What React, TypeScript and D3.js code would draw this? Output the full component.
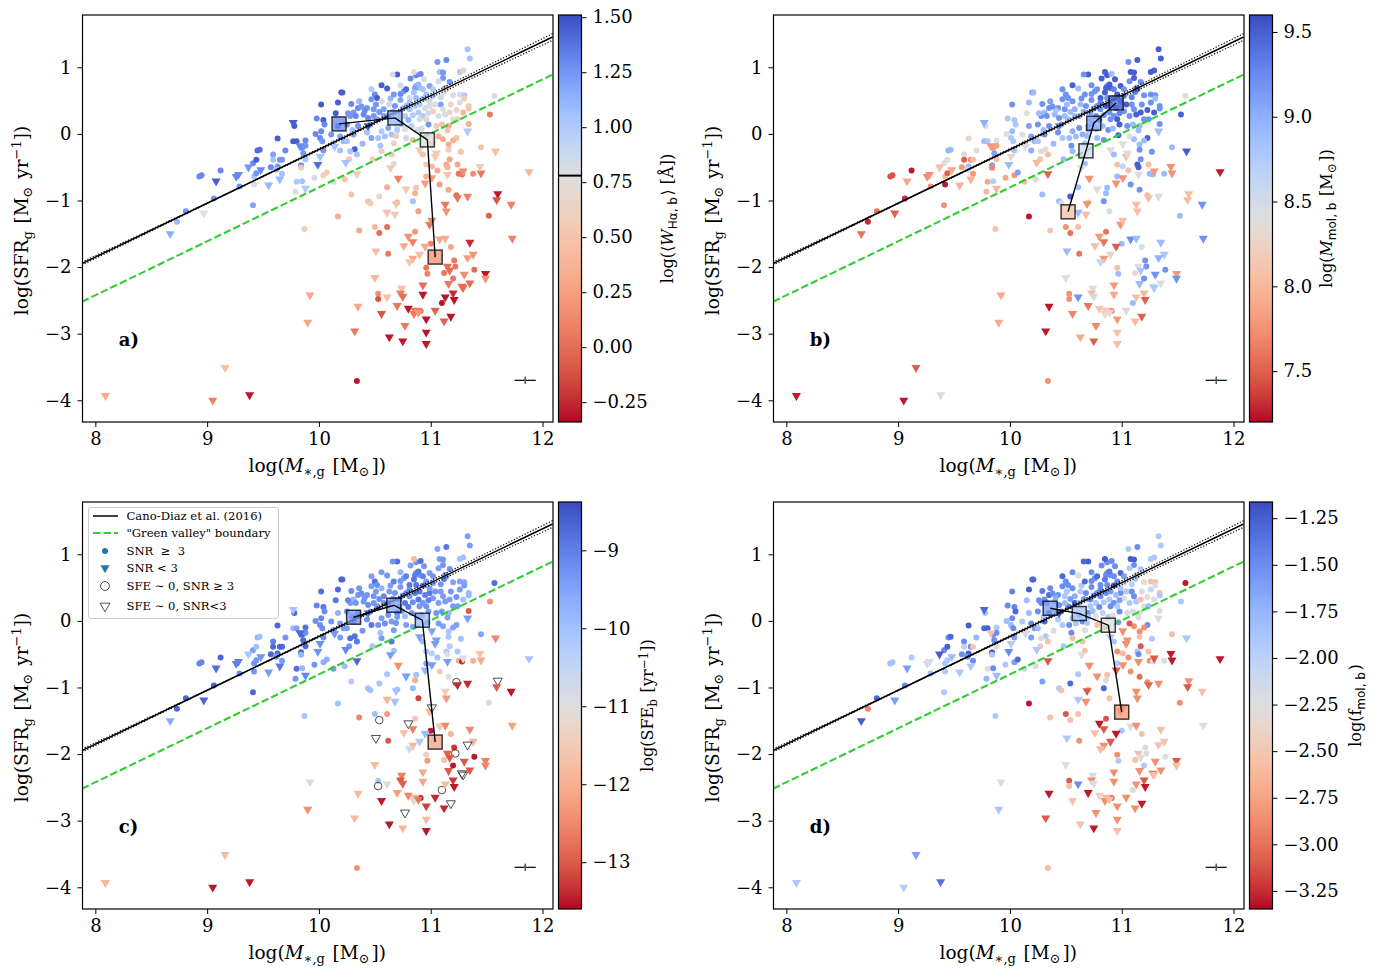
import { useEffect, useRef } from 'react';
import * as d3 from 'd3';

// values, one entry per galaxy, 10 per line
const massLog = [
  8.09,9.05,9.38,9.16,10.34,8.67,8.73,8.81,8.97,9.06,
  9.08,8.93,8.95,9.12,9.26,9.28,9.29,9.41,9.42,9.42,
  9.44,9.37,9.41,9.44,9.45,9.47,9.48,9.55,9.57,9.59,
  9.59,9.63,9.62,9.65,9.67,9.65,9.67,9.63,9.70,9.77,
  9.80,9.77,9.78,9.88,9.83,9.85,9.88,9.86,9.88,9.84,
  9.84,9.99,9.80,9.85,9.79,9.88,9.96,10.04,10.07,10.04,
  10.01,9.87,10.17,10.23,10.24,10.27,10.29,10.36,10.35,9.92,
  9.90,10.32,10.34,10.13,10.02,10.17,10.20,10.21,10.29,10.36,
  10.35,9.98,10.04,10.05,10.02,9.97,10.01,10.03,10.11,10.15,
  10.17,10.19,10.13,10.14,10.22,10.19,10.25,10.28,10.31,10.25,
  10.31,10.32,10.28,10.34,10.39,10.40,10.35,10.43,10.49,10.47,
  10.56,10.61,10.50,10.52,10.47,10.56,10.51,10.63,10.64,10.67,
  10.73,10.73,10.76,10.78,10.70,10.66,10.73,10.82,10.87,10.91,
  10.85,10.94,10.87,10.90,10.99,11.06,11.14,11.33,11.35,11.08,
  11.11,11.11,11.26,11.29,11.17,11.07,11.13,10.96,11.02,11.09,
  11.14,11.20,11.26,11.30,11.30,11.34,11.34,11.29,11.57,11.53,
  11.34,11.33,10.98,11.16,11.23,11.20,11.11,11.07,11.16,11.16,
  11.27,11.45,11.58,11.88,11.45,11.44,11.29,11.38,11.25,11.28,
  11.24,11.17,11.14,11.15,11.15,11.06,10.96,10.95,11.01,11.08,
  11.04,11.05,10.96,10.93,10.90,10.84,11.01,11.16,11.23,11.24,
  11.33,11.60,11.59,11.01,11.72,11.52,11.73,11.13,11.14,10.86,
  10.87,10.78,10.71,10.61,10.54,10.44,10.46,10.69,10.70,10.84,
  10.89,10.61,10.68,10.99,11.01,10.50,10.61,10.54,10.80,10.86,
  10.84,10.76,10.51,10.62,10.95,11.00,11.08,11.13,11.18,10.90,
  10.84,10.81,11.35,11.38,11.33,11.21,11.22,11.15,11.17,11.39,
  11.30,11.49,11.49,10.96,10.97,11.12,11.20,10.50,11.16,11.28,
  11.29,11.35,10.93,10.93,10.74,10.73,10.75,10.53,10.53,10.61,
  10.70,10.56,10.80,10.86,10.85,10.89,10.91,10.96,11.13,11.20,
  11.21,11.10,11.04,11.18,11.12,10.77,10.63,10.75,10.96,10.96,
  10.53,10.56,10.59,10.62,10.65,10.43,10.47,10.46,10.52,10.58,
  10.68,10.72,10.77,10.81,10.86,10.89,10.93,10.99,11.02,11.07,
  11.13,11.17,10.93,10.87,10.81,10.77,10.78,10.69,10.67,10.70,
  10.90,10.96,10.99,11.11,10.80,11.20,10.55,10.56,10.65,10.64,
  10.67,10.48,10.44,
  10.86,10.89,10.93,11.02,10.85,10.81,10.90,10.95,10.84,10.98,
  11.04,11.09,11.12,11.18,11.23,11.26,10.75,10.72,10.66,10.62,
  10.58,10.54,10.49,10.44,10.41,10.38,10.33,10.30,10.26,10.70,
  10.74,10.78,10.83,10.88,10.92,10.97,11.05,11.10,11.15,11.24,
];

const sfrLog = [
  -3.93,-4.00,-3.92,-3.51,-3.71,-1.50,-1.32,-1.16,-1.19,-0.97,
  -0.71,-0.64,-0.62,-0.55,-0.64,-0.61,-0.79,-1.07,-0.76,-0.64,
  -0.59,-0.50,-0.44,-0.39,-0.25,-0.24,-0.54,-0.77,-0.50,-0.31,
  -0.39,-0.49,-0.54,-0.68,-0.60,-0.39,-0.39,-0.07,-0.25,-0.11,
  -0.11,0.17,0.12,-0.10,-0.18,-0.21,-0.18,-0.29,-0.38,-0.47,
  -0.51,-0.46,-0.72,-0.71,-0.87,-0.82,-0.66,-0.62,-0.58,-0.25,
  -0.34,-1.43,-1.24,-0.68,-0.43,-0.38,-0.91,-1.45,-2.59,-2.42,
  -2.83,-2.96,-0.60,-0.72,0.44,0.47,0.62,0.62,0.45,0.49,
  0.39,0.23,0.21,0.14,0.04,0.00,-0.06,-0.11,-0.01,0.31,
  0.12,-0.04,-0.14,-0.19,-0.11,-0.25,-0.11,0.27,0.32,0.14,
  -0.01,-0.23,-0.26,-0.31,-0.15,0.29,0.12,0.39,0.37,0.67,
  0.73,0.68,0.59,0.54,0.52,0.49,0.44,0.44,0.53,0.59,
  0.60,0.51,0.64,0.67,0.89,0.89,0.73,0.83,0.88,0.90,
  0.93,0.82,0.72,0.69,0.72,1.08,1.11,1.27,1.13,0.93,
  0.92,0.84,0.93,0.95,0.78,0.79,0.69,0.59,0.57,0.44,
  0.67,0.58,0.59,0.58,0.53,0.42,0.38,0.32,0.57,0.29,
  0.15,0.04,0.14,0.12,-0.06,-0.10,-0.08,-0.04,-0.16,-0.24,
  -0.27,-0.20,-0.26,-0.57,-0.59,-0.49,-0.56,-0.60,-0.60,-0.61,
  -0.46,-0.38,-0.46,-0.50,-0.61,-0.55,-0.64,-0.74,-0.66,-0.76,
  -0.34,-0.29,-0.46,-0.31,-0.24,-0.09,-0.15,-0.84,-0.92,-0.96,
  -0.94,-0.90,-0.99,-0.49,-1.06,-1.23,-1.57,-1.06,-1.16,-0.89,
  -0.81,-0.83,-0.67,-0.80,-0.94,-1.01,-1.04,-1.05,-1.03,-1.01,
  -1.16,-1.18,-1.21,-1.36,-1.30,-1.40,-1.40,-1.49,-1.54,-1.47,
  -1.62,-1.68,-1.76,-1.80,-1.69,-1.65,-1.58,-1.57,-1.70,-1.81,
  -1.87,-1.92,-1.63,-1.81,-1.86,-1.90,-1.99,-1.99,-2.05,-2.04,
  -2.11,-2.10,-2.17,-2.01,-2.10,-2.09,-2.17,-2.16,-2.25,-2.29,
  -2.31,-2.24,-2.27,-2.41,-2.32,-2.39,-2.44,-2.40,-2.48,-2.45,
  -2.58,-2.70,-2.62,-2.65,-2.70,-2.68,-2.66,-2.78,-2.45,-2.39,
  -2.49,-2.54,-2.65,-2.74,-2.81,-2.88,-3.05,-3.11,-2.98,-3.15,
  -0.06,0.04,-0.04,0.09,-0.01,0.02,-0.06,0.14,0.22,0.27,
  0.42,0.32,0.27,0.37,0.42,0.32,0.27,0.42,0.34,0.27,
  0.29,0.32,0.53,0.54,0.54,0.07,-0.06,-0.03,-0.14,0.12,
  0.22,0.22,0.49,0.37,0.21,0.22,-0.18,-0.26,-0.31,-0.51,
  -0.45,-0.38,0.12,
  0.69,0.74,0.67,0.67,0.62,0.47,0.44,0.39,0.28,0.31,
  0.44,0.55,0.63,0.44,0.36,0.47,0.38,0.22,0.33,0.27,
  0.37,0.33,0.27,0.24,0.35,0.41,0.27,0.06,0.31,0.06,
  0.15,0.42,0.12,0.06,0.08,-0.02,0.12,0.14,0.05,0.22,
];

// 1 = SNR < 3 (triangle), 0 = SNR >= 3 (circle)
const lowSnr = [
  1,1,1,1,0,1,0,0,1,0,
  1,0,0,0,1,1,0,0,0,0,
  0,1,0,0,0,0,1,1,0,0,
  0,0,0,1,0,0,0,0,0,0,
  0,1,0,0,1,0,0,0,0,0,
  0,1,0,0,0,1,0,0,0,0,
  1,0,0,0,1,0,0,0,1,1,
  1,1,1,0,0,0,0,0,0,0,
  0,0,0,0,0,0,0,0,0,0,
  0,0,0,1,0,0,0,0,0,0,
  0,0,0,0,0,0,0,0,0,0,
  0,0,0,0,0,0,0,0,0,0,
  0,0,0,0,0,0,0,0,0,0,
  0,0,0,0,0,0,0,0,0,0,
  0,0,0,0,0,0,0,0,0,0,
  0,0,0,0,0,0,0,0,0,0,
  0,1,0,0,0,0,0,0,0,0,
  0,0,1,1,1,1,1,0,0,0,
  0,0,0,0,1,0,0,1,1,0,
  1,1,0,0,1,0,1,0,0,1,
  1,1,1,0,1,0,1,1,1,0,
  0,1,1,0,0,0,0,1,0,0,
  0,1,1,1,1,0,0,0,1,0,
  1,1,1,0,1,0,1,1,0,1,
  1,1,1,1,1,0,0,1,1,0,
  1,1,1,0,0,0,0,1,1,1,
  1,1,1,1,1,1,1,0,0,1,
  1,1,1,1,1,1,0,1,1,1,
  1,0,1,1,1,1,1,1,1,1,
  0,0,0,0,0,0,0,0,0,0,
  0,0,0,0,0,0,0,0,0,0,
  0,0,0,0,0,0,0,0,0,0,
  0,0,0,0,0,0,0,0,0,1,
  0,0,1,
  0,0,0,0,0,0,0,0,0,0,
  0,0,0,0,0,0,0,0,0,0,
  0,0,0,0,0,0,0,0,0,0,
  0,0,0,0,0,0,0,0,0,0,
];

const ewHalpha = [
  0.3,0.1,-0.3,0.45,-0.3,1.15,1.1,1.25,0.78,1.25,
  1.45,1.3,1.3,1.3,1.3,1.3,1.25,1.2,0.78,1.05,
  1.25,1.25,1.3,1.45,1.4,1.4,1.3,1.1,1.3,1.2,
  1.05,1.25,1.05,1.1,1.05,1.25,1.25,1.45,1.3,1.45,
  1.45,1.45,1.45,1.3,1.3,1.3,1.25,1.25,1.05,1.25,
  0.55,1.4,1.0,1.05,0.8,1.0,0.8,0.6,0.55,1.25,
  1.05,0.55,0.35,0.5,1.05,0.55,0.5,0.3,0.3,0.3,
  0.3,0.05,0.55,0.78,1.45,1.45,1.45,1.45,1.3,1.1,
  1.3,1.3,1.45,1.3,1.3,1.3,1.3,1.25,1.25,1.45,
  1.3,1.2,1.05,1.05,1.1,1.05,1.05,1.25,1.25,1.3,
  1.2,1.45,1.05,1.05,1.1,1.3,1.25,1.25,1.25,1.0,
  1.45,1.45,1.3,1.45,1.25,0.8,1.25,0.85,1.1,1.25,
  1.3,1.2,1.25,1.4,1.45,0.8,0.85,1.3,1.3,1.3,
  0.7,0.8,1.2,1.05,1.2,1.25,1.3,1.05,1.05,1.05,
  1.25,1.25,1.0,0.6,1.25,0.85,1.15,1.05,1.0,1.2,
  0.6,0.8,0.8,1.0,0.6,0.55,0.5,0.4,0.78,0.05,
  0.35,1.0,1.25,0.35,0.5,0.35,0.35,0.35,0.35,0.55,
  0.5,0.5,0.45,0.4,0.05,0.55,0.15,0.15,0.05,0.05,
  0.3,0.3,0.3,0.35,0.5,0.3,0.35,0.25,0.25,0.25,
  0.55,0.55,0.55,0.5,0.6,0.45,0.55,0.3,0.0,0.05,
  0.1,-0.3,-0.1,0.4,0.1,-0.05,0.1,0.05,0.2,0.35,
  0.5,0.55,0.1,0.35,0.75,0.5,0.55,0.5,0.35,1.05,
  0.25,0.5,0.55,0.05,0.1,0.4,0.0,0.0,0.2,0.2,
  0.1,0.3,0.45,0.05,0.3,0.1,0.3,0.35,0.3,0.45,
  0.3,0.5,-0.25,0.2,0.25,0.05,0.05,0.0,0.0,0.0,
  0.15,-0.3,0.2,0.05,0.1,0.05,0.05,0.4,0.05,0.0,
  0.0,0.0,0.0,-0.3,0.45,0.1,0.0,0.15,-0.1,0.45,
  0.05,-0.1,-0.3,0.05,0.05,0.2,0.0,-0.3,-0.3,-0.25,
  -0.3,-0.3,-0.05,-0.3,-0.05,0.05,-0.3,-0.3,-0.3,-0.3,
  1.05,1.0,1.05,1.2,1.05,1.05,1.2,1.2,1.2,1.2,
  1.25,1.05,1.0,1.05,1.0,1.0,1.0,0.8,0.6,0.8,
  0.8,0.65,1.05,1.1,0.85,0.8,0.85,0.55,0.6,0.8,
  0.85,0.65,0.85,0.78,1.15,0.8,1.05,0.6,0.55,0.55,
  0.75,0.6,1.45,
  1.2,1.1,1.05,1.0,1.05,1.05,1.0,0.85,1.0,0.85,
  0.8,0.85,0.8,0.7,0.65,0.75,1.1,1.1,1.2,1.2,
  1.2,1.25,1.25,1.3,1.3,1.25,1.3,1.05,1.25,1.0,
  1.05,1.1,0.95,0.85,0.75,0.55,0.55,0.5,0.5,0.6,
];

const molMass = [
  7.25,7.25,8.3,7.5,7.75,7.6,7.3,7.6,7.5,7.3,
  7.9,7.45,7.45,7.25,7.75,7.75,7.75,7.75,7.25,8.05,
  7.5,8.05,8.4,8.4,9.0,8.9,7.9,7.95,7.8,8.4,
  7.5,8.9,8.5,7.95,7.8,7.7,8.05,8.3,8.4,8.9,
  8.8,9.0,8.4,8.4,7.8,7.8,7.85,9.1,8.05,9.1,
  7.7,8.9,7.9,8.7,8.0,8.0,7.9,7.8,9.1,8.8,
  8.3,8.1,7.25,8.3,8.0,8.1,8.9,8.1,7.25,7.9,
  7.9,7.25,7.5,8.05,9.2,8.9,9.2,8.9,9.2,9.1,
  9.2,8.8,8.8,8.8,8.9,8.4,8.8,8.8,8.4,8.4,
  9.1,9.1,8.1,8.4,8.9,9.0,8.8,9.2,8.9,9.2,
  9.2,8.4,8.4,8.05,8.9,8.9,9.2,9.2,9.2,9.2,
  9.5,8.9,9.2,9.2,9.2,9.2,8.9,8.9,9.2,9.2,
  9.2,9.2,9.2,9.2,9.5,9.2,9.2,9.5,9.5,8.9,
  9.5,9.5,9.2,9.5,9.5,9.2,9.5,9.5,9.5,9.5,
  9.5,9.5,9.5,9.5,9.2,9.2,9.2,9.5,9.2,9.2,
  9.5,9.2,9.2,9.2,8.9,9.2,9.2,9.5,8.4,9.5,
  9.2,8.9,9.5,8.9,9.5,8.9,8.9,8.4,8.9,9.2,
  9.2,8.9,9.5,7.25,7.75,7.75,7.8,8.9,8.9,8.9,
  8.05,9.2,9.5,9.5,8.4,8.05,8.9,7.75,7.75,9.2,
  8.05,8.4,8.05,8.9,8.4,9.2,8.4,9.2,8.05,8.05,
  8.4,8.05,8.05,8.6,9.2,8.9,9.2,8.05,8.05,8.9,
  8.9,8.4,7.75,8.9,9.5,8.9,8.4,7.75,8.05,9.2,
  8.4,8.9,8.05,7.75,8.05,7.75,8.05,7.6,7.8,7.6,
  7.6,8.05,8.9,7.6,7.5,8.9,9.2,8.9,8.4,8.3,
  7.8,8.6,8.9,8.8,9.0,9.2,9.2,8.4,8.8,9.2,
  9.2,7.8,9.2,8.05,8.9,8.3,9.2,8.4,8.9,8.4,
  8.8,8.4,7.8,7.9,8.4,8.05,8.5,7.75,7.75,9.2,
  7.6,7.7,8.1,8.1,8.3,8.3,7.7,7.8,8.05,8.0,
  7.5,8.9,8.3,7.5,8.0,7.7,7.9,7.5,8.05,8.05,
  8.9,9.0,8.9,9.2,9.0,9.2,8.8,9.1,8.9,8.9,
  9.2,9.1,9.2,9.2,9.5,9.2,9.2,9.2,9.2,9.2,
  9.5,9.5,9.3,9.2,9.5,8.9,8.9,8.9,8.8,9.1,
  9.2,9.5,9.5,9.2,9.5,9.2,9.2,8.9,8.1,8.4,
  8.9,8.9,9.2,
  9.5,9.5,9.3,9.2,9.5,9.3,9.3,9.5,9.2,9.3,
  9.5,9.3,9.3,9.2,9.5,9.2,9.2,8.9,9.0,8.9,
  9.0,8.9,8.9,9.2,8.8,9.2,9.2,8.9,8.9,8.9,
  9.0,9.2,8.9,9.2,8.9,9.5,9.2,8.9,8.9,9.2,
];

// null = SFE ~ 0, drawn as an open symbol
const sfeBulge = [
  -11.9,-13.5,-13.5,-11.8,-12.4,-9.6,-8.7,-8.7,-8.7,-8.7,
  -8.8,-9.1,-9.1,-8.7,-9.0,-9.0,-9.2,-8.7,-9.3,-9.3,
  -9.3,-10.1,-9.4,-10.0,-9.8,-10.0,-9.3,-9.4,-8.7,-9.0,
  -8.7,-8.7,-9.4,-8.9,-9.4,-8.7,-8.7,-8.7,-9.3,-9.9,
  -9.5,-10.1,-8.7,-8.8,-8.7,-8.7,-9.2,-8.7,-8.7,-8.7,
  -9.8,-9.3,-8.8,-9.8,-9.3,-9.1,-9.3,-9.7,-9.7,-9.2,
  -9.2,-10.1,-10.0,-9.9,-9.1,-9.3,-10.2,-12.5,-11.8,-11.0,
  -12.4,-11.8,-8.7,-9.4,-8.8,-8.7,-8.7,-8.7,-9.2,-9.3,
  -9.3,-9.1,-8.9,-9.2,-9.1,-9.2,-9.2,-9.2,-9.3,-8.9,
  -9.7,-9.4,-9.3,-9.3,-9.4,-9.4,-9.4,-9.4,-9.8,-9.4,
  -9.3,-8.8,-8.8,-8.9,-9.3,-9.3,-9.3,-9.3,-9.3,-9.4,
  -9.4,-9.3,-8.8,-9.2,-9.4,-9.8,-9.4,-9.4,-9.4,-9.0,
  -9.3,-9.4,-9.4,-9.0,-8.8,-9.3,-9.8,-9.4,-9.3,-8.8,
  -11.8,-9.3,-9.3,-9.3,-9.4,-9.5,-8.9,-9.4,-9.4,-9.4,
  -9.3,-9.3,-10.0,-10.0,-9.3,-9.4,-9.4,-9.4,-9.4,-9.4,
  -9.4,-9.5,-9.5,-9.5,-9.4,-9.9,-9.9,-10.0,-8.8,-12.4,
  -13.0,-9.4,-9.4,-9.9,-9.4,-9.5,-9.5,-9.4,-10.1,-10.1,
  -10.0,-9.5,-12.5,-10.1,-12.0,-11.7,-11.0,-12.0,-12.0,-13.4,
  -10.1,-10.2,-10.2,-11.0,-9.4,-10.0,-9.5,-9.8,-9.4,-11.5,
  -9.4,-9.4,-10.1,-9.9,-9.5,-9.5,-9.5,-11.0,null,-13.4,
  -13.4,null,-13.0,-10.3,-13.5,-10.9,-12.2,-11.4,-12.3,-12.0,
  -10.0,-9.4,-12.4,-10.1,-10.1,-10.0,-10.0,-10.0,-10.1,-9.9,
  -13.2,-11.9,-10.0,-11.8,null,-10.0,-12.3,null,null,-11.6,
  -12.6,-11.7,null,-13.0,-9.9,-13.5,-11.5,-12.5,-11.9,-10.2,
  -11.9,-10.7,-12.5,-11.9,null,-13.3,null,-12.9,-13.0,-13.5,
  -13.0,-12.6,-12.5,-11.4,-12.3,-11.7,-13.5,-11.8,-13.0,null,
  null,-13.0,-12.1,-12.1,-12.6,-13.0,-12.9,-10.1,null,-11.1,
  -12.2,-13.5,-12.5,-11.9,-11.2,-12.7,-13.5,-13.2,-11.8,-13.3,
  -13.5,null,-13.4,null,-13.4,null,-13.5,-11.9,-11.8,-13.5,
  -9.3,-9.4,-9.2,-9.3,-9.4,-9.3,-8.9,-9.3,-9.4,-9.3,
  -9.3,-9.4,-8.9,-9.3,-8.9,-8.9,-9.3,-8.9,-9.4,-9.4,
  -9.4,-9.4,-8.9,-8.9,-8.9,-9.9,-9.4,-9.3,-9.4,-8.9,
  -9.3,-9.3,-9.4,-9.4,-8.9,-9.4,-10.0,-9.4,-8.9,-9.4,
  -10.0,-10.1,-8.9,
  -9.0,-8.9,-9.0,-9.3,-8.9,-9.2,-8.9,-9.0,-9.2,-9.0,
  -9.3,-9.3,-9.0,-9.3,-9.3,-9.4,-9.2,-9.3,-9.2,-9.3,
  -9.1,-9.2,-9.3,-9.2,-9.3,-9.2,-9.3,-9.4,-9.1,-9.4,
  -9.3,-9.2,-9.3,-9.3,-9.4,-9.3,-9.3,-9.3,-9.5,-9.4,
];

const fmolBulge = [
  -1.9,-1.95,-1.35,-1.6,-2.6,-1.25,-2.9,-1.3,-1.6,-1.5,
  -1.6,-1.85,-1.85,-1.95,-2.15,-2.2,-1.8,-1.9,-1.9,-1.9,
  -1.9,-1.25,-1.5,-1.25,-1.5,-1.3,-1.8,-1.9,-1.5,-1.5,
  -2.0,-1.25,-1.5,-1.9,-1.5,-1.5,-2.5,-1.25,-1.75,-1.3,
  -1.25,-1.3,-1.9,-1.9,-2.5,-1.5,-1.5,-1.5,-2.2,-1.25,
  -1.9,-1.5,-2.25,-1.5,-1.75,-1.8,-1.9,-1.6,-1.3,-1.6,
  -1.95,-1.9,-3.3,-2.25,-1.9,-2.5,-1.6,-2.55,-3.3,-2.2,
  -1.9,-3.1,-3.1,-2.1,-1.45,-1.25,-1.3,-1.3,-1.4,-1.5,
  -1.3,-1.5,-1.45,-1.3,-1.5,-1.8,-1.8,-1.5,-1.9,-1.8,
  -1.8,-1.5,-2.25,-2.2,-1.6,-1.6,-1.8,-1.5,-1.5,-1.5,
  -1.3,-1.9,-2.25,-2.55,-2.25,-1.9,-1.3,-1.5,-1.9,-1.3,
  -1.5,-2.25,-1.5,-1.5,-1.5,-1.5,-1.9,-1.9,-1.9,-1.3,
  -1.5,-1.5,-1.5,-1.3,-1.25,-1.3,-1.5,-1.5,-1.5,-1.5,
  -1.25,-1.5,-1.5,-1.5,-1.3,-1.9,-1.5,-1.9,-1.9,-1.25,
  -1.25,-1.5,-1.9,-1.9,-1.9,-1.9,-1.9,-1.5,-2.25,-1.5,
  -2.55,-2.25,-2.55,-2.55,-2.25,-2.55,-1.9,-2.25,-3.3,-1.9,
  -2.25,-2.25,-1.5,-2.25,-1.5,-2.85,-2.85,-3.1,-2.85,-2.55,
  -1.9,-2.55,-1.9,-3.3,-3.3,-3.3,-3.1,-2.25,-2.85,-2.25,
  -2.55,-3.1,-1.9,-1.5,-2.85,-2.85,-1.9,-3.1,-2.85,-2.85,
  -2.85,-2.85,-2.85,-1.9,-1.9,-2.55,-2.85,-3.0,-2.85,-3.05,
  -2.85,-2.85,-3.1,-2.6,-2.55,-2.85,-2.25,-2.85,-2.85,-2.25,
  -2.55,-2.85,-2.85,-1.9,-1.3,-1.9,-2.55,-3.1,-2.55,-1.3,
  -2.55,-1.9,-2.85,-2.85,-2.85,-3.1,-2.55,-2.55,-3.3,-3.1,
  -3.1,-2.55,-1.9,-2.85,-3.3,-1.9,-2.25,-2.85,-2.55,-3.1,
  -2.85,-2.6,-2.55,-2.55,-2.55,-2.25,-2.25,-2.55,-2.25,-2.25,
  -2.85,-3.1,-2.55,-2.85,-1.9,-2.55,-1.9,-2.25,-2.85,-3.0,
  -2.55,-2.85,-2.85,-2.85,-2.25,-2.85,-2.25,-3.1,-2.55,-1.5,
  -3.3,-2.55,-2.4,-2.6,-2.85,-2.55,-3.05,-2.85,-2.85,-3.1,
  -3.3,-2.25,-2.85,-3.3,-2.85,-2.85,-2.55,-3.3,-2.85,-2.55,
  -1.5,-1.9,-1.9,-1.5,-1.5,-1.9,-1.9,-1.5,-1.5,-1.25,
  -1.5,-1.5,-1.9,-1.5,-1.5,-1.9,-1.5,-1.5,-2.25,-1.9,
  -1.9,-2.55,-1.25,-1.5,-1.5,-2.25,-2.55,-1.9,-2.25,-1.5,
  -1.5,-1.9,-1.9,-1.5,-1.5,-2.25,-1.5,-2.55,-2.55,-2.25,
  -2.55,-1.9,-1.25,
  -1.5,-1.4,-1.5,-1.6,-1.4,-1.5,-1.6,-1.8,-1.9,-1.6,
  -1.9,-2.0,-1.9,-2.2,-2.3,-2.1,-1.5,-1.9,-1.6,-1.9,
  -1.7,-1.6,-1.8,-1.5,-1.7,-1.5,-1.5,-1.9,-1.5,-1.9,
  -1.8,-1.5,-2.0,-1.9,-2.3,-1.6,-2.2,-2.2,-2.3,-1.8,
];

// main sequence fit and its error envelope
const canoMass = [7.88, 9.2, 10.5, 12.09];
const canoSfr = [-1.947, -0.88, 0.17, 1.455];
const canoUpper = [-1.925, -0.88, 0.19, 1.505];
const canoLower = [-1.97, -0.88, 0.15, 1.405];
const valleyMass = [7.88, 12.09];
const valleySfr = [-2.52, 0.89];

// binned medians per panel
const medianMass = [[10.18,10.68,10.97,11.04],[10.95,10.75,10.68,10.52],[10.31,10.67,10.925,11.04],[10.36,10.62,10.88,11.0]];
const medianSfr = [[0.15,0.24,-0.09,-1.85],[0.465,0.16,-0.255,-1.17],[0.055,0.235,0.01,-1.82],[0.19,0.11,-0.065,-1.37]];
const medianColor = [[1.32,1.12,0.78,0.15],[9.4,9.05,8.55,8.05],[-9.3,-9.5,-9.9,-12.2],[-1.6,-1.85,-2.25,-2.8]];

const colorValues = [ewHalpha, molMass, sfeBulge, fmolBulge];
const colorDomains = [[-0.34,0.78,1.51],[7.2,8.4,9.6],[-13.6,-10.99,-8.38],[-3.347,-2.255,-1.163]];
const colorTicks = [
  [1.5,1.25,1,0.75,0.5,0.25,0,-0.25],
  [9.5,9,8.5,8,7.5],
  [-9,-10,-11,-12,-13],
  [-1.25,-1.5,-1.75,-2,-2.25,-2.5,-2.75,-3,-3.25],
];
const colorTickFormats = ['.2f','.1f','d','.2f'];
const panelLetters = ['a)','b)','c)','d)'];

const coolwarmStops = [
  '#3b4cc0','#445acc','#4d68d7','#5775e1','#6282ea','#6c8ef1','#779af7','#82a5fb','#8db0fe','#98b9ff',
  '#a3c2ff','#aec9fd','#b8d0f9','#c2d5f4','#ccd9ee','#d5dbe6','#dddddd','#e5d8d1','#ecd3c5','#f1ccb9',
  '#f5c4ad','#f7bba0','#f7b194','#f7a687','#f49a7b','#f18d6f','#ec7f63','#e57058','#de604d','#d54e42',
  '#cb3a38','#c0242f','#b40426',
];
const coolwarm = d3.piecewise(d3.interpolateRgb, coolwarmStops);

const serif = '"DejaVu Serif", serif';
const sans = '"DejaVu Sans", sans-serif';
const plotW = 470.5;
const plotH = 407;
const barW = 23;
const tickFont = 18;

const x = d3.scaleLinear().domain([7.885, 12.094]).range([0, plotW]);
const y = d3.scaleLinear().domain([1.785, -4.326]).range([0, plotH]);
const line = d3.line<[number, number]>().x(d => x(d[0])).y(d => y(d[1]));
const triangle = d3.symbol(d3.symbolTriangle, 36)() as string;

const Sub = ({ children, font = serif, size = 13, back = true }: any) => (
  <>
    <tspan dy={4} fontSize={size} fontFamily={font}>{children}</tspan>
    {back && <tspan dy={-4}>{'\u200a'}</tspan>}
  </>
);

const massLabel = (
  <>log(<tspan fontStyle="italic">M</tspan><Sub>∗,g</Sub> [M<Sub>⊙</Sub>])</>
);
const sfrLabel = (
  <>log(SFR<Sub>g</Sub> [M<Sub>⊙</Sub> yr<tspan dy={-7} fontSize={13}>−1</tspan><tspan dy={7}>])</tspan></>
);
const barLabels = [
  <>log(⟨<tspan fontStyle="italic">W</tspan><Sub font={sans} size={12}>Hα, b</Sub>⟩ [Å])</>,
  <>log(<tspan fontStyle="italic">M</tspan><Sub font={sans} size={12}>mol, b</Sub> [M<Sub size={12}>⊙</Sub>])</>,
  <>log(SFE<Sub size={12}>b</Sub> [yr<tspan dy={-5} fontSize={12}>−1</tspan><tspan dy={5}>])</tspan></>,
  <>log(f<Sub font={sans} size={12}>mol, b</Sub>)</>,
];
const barLabelX = [114, 82, 94, 111];

function Panel({ index, left, top }: { index: number; left: number; top: number }) {
  const gx = useRef<SVGGElement>(null);
  const gy = useRef<SVGGElement>(null);
  const gc = useRef<SVGGElement>(null);

  const domain = colorDomains[index];
  const norm = d3.scaleLinear().domain(domain).range([1, 0.5, 0]).clamp(true);
  const color = (v: number) => coolwarm(norm(v));
  const barY = d3.scaleLinear().domain([domain[2], domain[0]]).range([0, plotH]);
  const values = colorValues[index];
  const gradId = `bar-${index}`;
  const clipId = `clip-${index}`;

  useEffect(() => {
    if (gx.current) {
      d3.select(gx.current)
        .call(d3.axisBottom(x).tickValues([8, 9, 10, 11, 12]).tickFormat(d3.format('d') as any).tickSize(5).tickSizeOuter(0).tickPadding(5) as any)
        .call(g => g.select('.domain').remove())
        .call(g => g.selectAll('text').attr('font-size', tickFont).attr('font-family', serif).attr('fill', '#000'));
    }
    if (gy.current) {
      d3.select(gy.current)
        .call(d3.axisLeft(y).tickValues([1, 0, -1, -2, -3, -4]).tickFormat(d3.format('d') as any).tickSize(5).tickSizeOuter(0).tickPadding(6) as any)
        .call(g => g.select('.domain').remove())
        .call(g => g.selectAll('text').attr('font-size', tickFont).attr('font-family', serif).attr('fill', '#000'));
    }
    if (gc.current) {
      d3.select(gc.current)
        .call(d3.axisRight(barY).tickValues(colorTicks[index]).tickFormat(d3.format(colorTickFormats[index]) as any).tickSize(5).tickSizeOuter(0).tickPadding(6) as any)
        .call(g => g.select('.domain').remove())
        .call(g => g.selectAll('text').attr('font-size', 18).attr('font-family', serif).attr('fill', '#000'));
    }
  }, [index]);

  const circles = d3.range(massLog.length).filter(i => !lowSnr[i]);
  const triangles = d3.range(massLog.length).filter(i => lowSnr[i]);
  const medians = medianMass[index].map((m, i) => [m, medianSfr[index][i]] as [number, number]);

  return (
    <g transform={`translate(${left},${top})`}>
      <defs>
        <clipPath id={clipId}><rect width={plotW} height={plotH} /></clipPath>
        <linearGradient id={gradId} x1="0" y1="0" x2="0" y2="1">
          {d3.range(0, 1.001, 0.02).map(t => (
            <stop key={t} offset={t} stopColor={color(barY.invert(t * plotH))} />
          ))}
        </linearGradient>
      </defs>

      <g clipPath={`url(#${clipId})`}>
        {circles.map(i => values[i] === null
          ? <circle key={i} cx={x(massLog[i])} cy={y(sfrLog[i])} r={3.8} fill="none" stroke="#222" strokeWidth={0.8} />
          : <circle key={i} cx={x(massLog[i])} cy={y(sfrLog[i])} r={3} fill={color(values[i] as number)} />)}
        {triangles.map(i => values[i] === null
          ? <path key={i} d={triangle} transform={`translate(${x(massLog[i])},${y(sfrLog[i])}) rotate(180)`} fill="none" stroke="#222" strokeWidth={0.8} />
          : <path key={i} d={triangle} transform={`translate(${x(massLog[i])},${y(sfrLog[i])}) rotate(180)`} fill={color(values[i] as number)} />)}

        <path d={line(canoMass.map((m, i) => [m, canoUpper[i]]))!} fill="none" stroke="#000" strokeWidth={1.2} strokeDasharray="1.2,1.8" />
        <path d={line(canoMass.map((m, i) => [m, canoLower[i]]))!} fill="none" stroke="#000" strokeWidth={1.2} strokeDasharray="1.2,1.8" />
        <path d={line(canoMass.map((m, i) => [m, canoSfr[i]]))!} fill="none" stroke="#000" strokeWidth={1.5} />
        <path d={line(valleyMass.map((m, i) => [m, valleySfr[i]]))!} fill="none" stroke="#32cd32" strokeWidth={2.1} strokeDasharray="7.5,3" />

        {medians.map((d, i) => (
          <rect key={i} x={x(d[0]) - 7} y={y(d[1]) - 7} width={14} height={14}
            fill={color(medianColor[index][i])} fillOpacity={0.75} stroke="#000" strokeOpacity={0.75} strokeWidth={1.5} />
        ))}
        <path d={line(medians)!} fill="none" stroke="#000" strokeWidth={1.4} />

        <line x1={x(11.75)} x2={x(11.94)} y1={y(-3.7)} y2={y(-3.7)} stroke="#000" strokeWidth={1.2} />
        <line x1={x(11.845)} x2={x(11.845)} y1={y(-3.645)} y2={y(-3.755)} stroke="#000" strokeWidth={1} />
        <circle cx={x(11.845)} cy={y(-3.7)} r={1} fill="#1f77b4" />
      </g>

      <text x={x(8.21)} y={y(-3.18)} fontFamily={serif} fontWeight="bold" fontSize={18}>{panelLetters[index]}</text>

      <rect width={plotW} height={plotH} fill="none" stroke="#000" strokeWidth={1.2} />
      <g ref={gx} transform={`translate(0,${plotH})`}></g>
      <g ref={gy}></g>

      <text transform={`translate(${plotW / 2 - 0.5},${plotH + 50})`} textAnchor="middle" fontFamily={serif} fontSize={18.5}>{massLabel}</text>
      <text transform={`translate(-55,${plotH / 2 + 2}) rotate(-90)`} textAnchor="middle" fontFamily={serif} fontSize={18.5}>{sfrLabel}</text>

      <g transform={`translate(${plotW + 5.5},0)`}>
        <rect width={barW} height={plotH} fill={`url(#${gradId})`} stroke="#000" strokeWidth={1.2} />
        {index === 0 && <line x1={0} x2={barW} y1={barY(0.78)} y2={barY(0.78)} stroke="#000" strokeWidth={2} />}
        <g ref={gc} transform={`translate(${barW},0)`}></g>
        <text transform={`translate(${barLabelX[index]},${plotH / 2}) rotate(-90)`} textAnchor="middle" fontFamily={serif} fontSize={16}>{barLabels[index]}</text>
      </g>
    </g>
  );
}

function Legend() {
  const rows = [
    'Cano-Diaz et al. (2016)',
    '"Green valley" boundary',
    'SNR  ≥  3',
    'SNR < 3',
    'SFE ∼ 0, SNR ≥ 3',
    'SFE ∼ 0, SNR<3',
  ];
  const ys = [516, 533, 551, 568, 586, 606];
  return (
    <g fontFamily={serif} fontSize={11.6}>
      <rect x={88.5} y={507.5} width={190} height={111} rx={2.5} fill="#fff" fillOpacity={0.85} stroke="#ccc" strokeWidth={1} />
      <line x1={93} x2={118} y1={ys[0]} y2={ys[0]} stroke="#000" strokeWidth={1.5} />
      <line x1={93} x2={118} y1={ys[1]} y2={ys[1]} stroke="#32cd32" strokeWidth={2.1} strokeDasharray="7.5,3" />
      <circle cx={105} cy={ys[2]} r={3} fill="#1f77b4" />
      <path d={triangle} transform={`translate(105,${ys[3]}) rotate(180)`} fill="#1f77b4" />
      <circle cx={105} cy={ys[4]} r={4.4} fill="none" stroke="#222" strokeWidth={0.8} />
      <path d={triangle} transform={`translate(105,${ys[5]}) rotate(180) scale(1.1)`} fill="none" stroke="#222" strokeWidth={0.7} />
      {rows.map((t, i) => (
        <text key={t} x={126.5} y={ys[i] + 4} xmlSpace="preserve">{t}</text>
      ))}
    </g>
  );
}

export default function App() {
  return (
    <svg width={1378} height={977} style={{ position: 'absolute', left: 0, top: 0, display: 'block', background: '#fff' }}>
      <Panel index={0} left={82.5} top={15} />
      <Panel index={1} left={773.5} top={15} />
      <Panel index={2} left={82.5} top={502} />
      <Panel index={3} left={773.5} top={502} />
      <Legend />
    </svg>
  );
}
